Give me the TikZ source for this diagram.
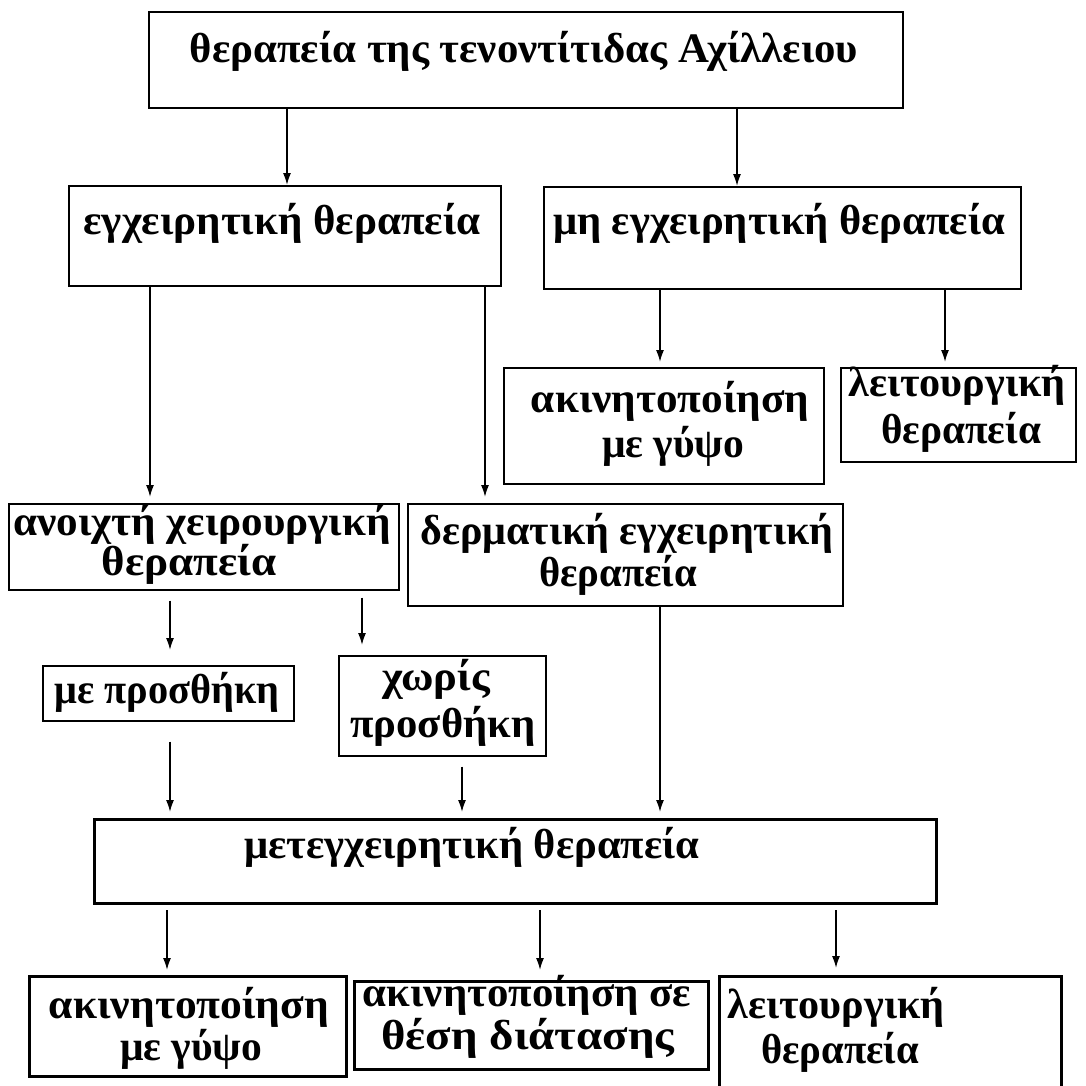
\documentclass[tikz,border=0pt]{standalone}
\usepackage{fontspec}
\setmainfont{Liberation Serif}
\usepackage{graphicx}
\usetikzlibrary{arrows.meta}
\newcommand{\tw}[2]{\resizebox{#1pt}{\height}{#2}}
\tikzset{
  box/.style={draw, line width=1.6pt, rectangle, inner sep=0pt, anchor=north west},
  tbox/.style={box, line width=3.4pt},
  txt/.style={anchor=base, inner sep=0pt, font=\fontsize{42}{46}\bfseries\selectfont},
  arr/.style={line width=1.6pt, -{Latex[length=12pt,width=8pt]}}
}
\begin{document}
\begin{tikzpicture}[x=1pt,y=-1pt]
\useasboundingbox (0,0) rectangle (1086,1085);
\fill[white] (0,0) rectangle (1086,1085);
% boxes
\node[box, minimum width=754pt, minimum height=96pt] (b1) at (148,11) {};
\node[box, minimum width=432pt, minimum height=100pt] (b2) at (68,185) {};
\node[box, minimum width=477pt, minimum height=102pt] (b3) at (543,186) {};
\node[box, minimum width=320pt, minimum height=116pt] (b4) at (503,367) {};
\node[box, minimum width=235pt, minimum height=94pt] (b5) at (840,367) {};
\node[box, minimum width=390pt, minimum height=86pt] (b6) at (8,503) {};
\node[box, minimum width=435pt, minimum height=102pt] (b7) at (407,503) {};
\node[box, minimum width=251pt, minimum height=55pt] (b8) at (42,665) {};
\node[box, minimum width=207pt, minimum height=100pt] (b9) at (338,655) {};
\node[tbox, minimum width=842pt, minimum height=84pt] (b10) at (93,818) {};
\node[tbox, minimum width=317pt, minimum height=100pt] (b11) at (28,975) {};
\node[tbox, minimum width=354pt, minimum height=88pt] (b12) at (353,980) {};
\node[tbox, minimum width=342pt, minimum height=112pt] (b13) at (718,975) {};
% texts
\node[txt] (t1) at (524,62) {\tw{668}{θεραπεία της τενοντίτιδας Αχίλλειου}};
\node[txt] (t2) at (282,234) {\tw{397}{εγχειρητική θεραπεία}};
\node[txt] (t3) at (779,234) {\tw{452}{μη εγχειρητική θεραπεία}};
\node[txt] (t4a) at (670,412) {\tw{278}{ακινητοποίηση}};
\node[txt] (t4b) at (673,457) {\tw{142}{με γύψο}};
\node[txt] (t5a) at (957,396) {\tw{217}{λειτουργική}};
\node[txt] (t5b) at (961,443) {\tw{160}{θεραπεία}};
\node[txt] (t6a) at (202,535) {\tw{377}{ανοιχτή χειρουργική}};
\node[txt] (t6b) at (189,575) {\tw{175}{θεραπεία}};
\node[txt] (t7a) at (627,544) {\tw{413}{δερματική εγχειρητική}};
\node[txt] (t7b) at (618,586) {\tw{158}{θεραπεία}};
\node[txt] (t8) at (167,703) {\tw{225}{με προσθήκη}};
\node[txt] (t9a) at (436,690) {\tw{108}{χωρίς}};
\node[txt] (t9b) at (443,737) {\tw{185}{προσθήκη}};
\node[txt] (t10) at (472,858) {\tw{455}{μετεγχειρητική θεραπεία}};
\node[txt] (t11a) at (189,1018) {\tw{280}{ακινητοποίηση}};
\node[txt] (t11b) at (191,1060) {\tw{142}{με γύψο}};
\node[txt] (t12a) at (527,1006) {\tw{328}{ακινητοποίηση σε}};
\node[txt] (t12b) at (528,1049) {\tw{293}{θέση διάτασης}};
\node[txt] (t13a) at (836,1018) {\tw{217}{λειτουργική}};
\node[txt] (t13b) at (840,1063) {\tw{158}{θεραπεία}};
% connectors
\draw[arr] (287,0 |- b1.south) -- (287,0 |- b2.north);
\draw[arr] (737,0 |- b1.south) -- (737,0 |- b3.north);
\draw[arr, shorten >=6pt] (150,0 |- b2.south) -- (150,0 |- b6.north);
\draw[arr, shorten >=6pt] (485,0 |- b2.south) -- (485,0 |- b7.north);
\draw[arr, shorten >=5pt] (660,0 |- b3.south) -- (660,0 |- b4.north);
\draw[arr, shorten >=5pt] (945,0 |- b3.south) -- (945,0 |- b5.north);
\draw[arr, shorten <=10pt, shorten >=15pt] (170,0 |- b6.south) -- (170,0 |- b8.north);
\draw[arr, shorten <=7pt, shorten >=10pt] (362,0 |- b6.south) -- (362,0 |- b9.north);
\draw[arr, shorten >=6pt] (660,0 |- b7.south) -- (660,0 |- b10.north);
\draw[arr, shorten <=20pt, shorten >=6pt] (170,0 |- b8.south) -- (170,0 |- b10.north);
\draw[arr, shorten <=10pt, shorten >=6pt] (462,0 |- b9.south) -- (462,0 |- b10.north);
\draw[arr, shorten <=5pt, shorten >=5pt] (167,0 |- b10.south) -- (167,0 |- b11.north);
\draw[arr, shorten <=5pt, shorten >=10pt] (540,0 |- b10.south) -- (540,0 |- b12.north);
\draw[arr, shorten <=5pt, shorten >=7pt] (836,0 |- b10.south) -- (836,0 |- b13.north);
\end{tikzpicture}
\end{document}
